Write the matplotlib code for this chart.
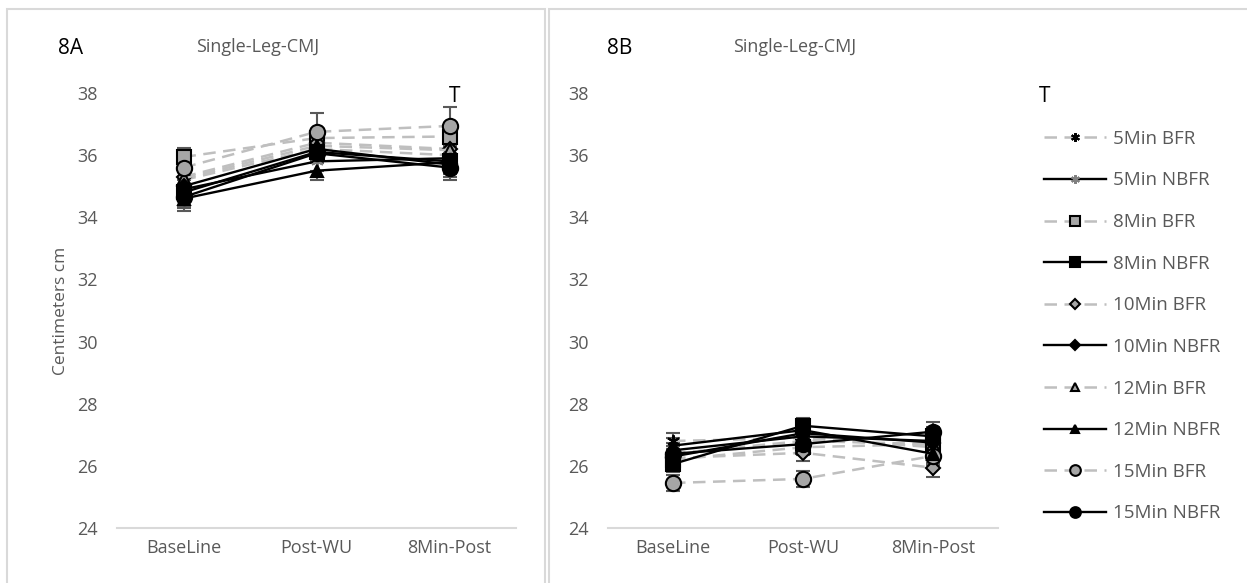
import matplotlib.pyplot as plt
from matplotlib.patches import Rectangle

plt.rcParams['font.family'] = ['Open Sans', 'DejaVu Sans']

stages = ['BaseLine', 'Post-WU', '8Min-Post']
series_names = ['5Min BFR', '5Min NBFR', '8Min BFR', '8Min NBFR', '10Min BFR',
                '10Min NBFR', '12Min BFR', '12Min NBFR', '15Min BFR', '15Min NBFR']

# panel 8A values (cm)
a_5_bfr = [35.2, 36.2, 36.0]
a_5_nbfr = [34.9, 35.8, 35.9]
a_8_bfr = [35.94, 36.55, 36.6]
a_8_nbfr = [34.8, 36.1, 35.8]
a_10_bfr = [35.3, 36.4, 36.2]
a_10_nbfr = [35.0, 36.2, 35.7]
a_12_bfr = [35.25, 36.3, 36.16]
a_12_nbfr = [34.6, 35.5, 35.77]
a_15_bfr = [35.6, 36.75, 36.94]
a_15_nbfr = [34.65, 36.06, 35.6]
a_err = [0.25, 0.6, 0.6]
a_err_low = [0.6, 0.3, 0.6]

# panel 8B values (cm)
b_5_bfr = [26.8, 26.9, 26.6]
b_5_nbfr = [26.5, 26.95, 26.8]
b_8_bfr = [26.2, 26.6, 26.7]
b_8_nbfr = [26.06, 27.29, 26.95]
b_10_bfr = [26.25, 26.42, 25.94]
b_10_nbfr = [26.3, 27.05, 26.75]
b_12_bfr = [26.4, 26.8, 26.7]
b_12_nbfr = [26.65, 27.15, 26.39]
b_15_bfr = [25.45, 25.58, 26.32]
b_15_nbfr = [26.39, 26.7, 27.1]
b_err = [0.25, 0.25, 0.3]

data_a = [a_5_bfr, a_5_nbfr, a_8_bfr, a_8_nbfr, a_10_bfr,
          a_10_nbfr, a_12_bfr, a_12_nbfr, a_15_bfr, a_15_nbfr]
data_b = [b_5_bfr, b_5_nbfr, b_8_bfr, b_8_nbfr, b_10_bfr,
          b_10_nbfr, b_12_bfr, b_12_nbfr, b_15_bfr, b_15_nbfr]

GRAY_LINE = '#BFBFBF'
GRAY_FILL = '#A6A6A6'
TXT = '#595959'

markers = [(6, 2, 0), (6, 2, 0), 's', 's', 'D', 'D', '^', '^', 'o', 'o']
msizes = [9, 9, 10, 10, 7, 7, 9, 9, 11, 11]


def style(i):
    bfr = i % 2 == 0
    if bfr:
        st = dict(color=GRAY_LINE, linestyle=(0, (5, 3)), linewidth=1.8,
                  markerfacecolor=GRAY_FILL, markeredgecolor='black')
    else:
        st = dict(color='black', linestyle='-', linewidth=1.7,
                  markerfacecolor='black', markeredgecolor='black')
        if i == 1:
            st['markeredgecolor'] = '#808080'
    st['marker'] = markers[i]
    st['markersize'] = msizes[i]
    st['markeredgewidth'] = 1.5
    return st


fig = plt.figure(figsize=(12.47, 5.83), dpi=100)
W, H = 1247, 583

# panel borders
fig.patches.append(Rectangle((7 / W, -0.05), (545 - 7) / W, 1 - 9 / H + 0.05,
                             transform=fig.transFigure, fill=False,
                             edgecolor='#D9D9D9', linewidth=1.5))
fig.patches.append(Rectangle((549 / W, -0.05), (1260 - 549) / W, 1 - 9 / H + 0.05,
                             transform=fig.transFigure, fill=False,
                             edgecolor='#D9D9D9', linewidth=1.5))

bottom = 1 - 528 / H
height = (528 - 93) / H
ax_a = fig.add_axes([117 / W, bottom, (516 - 117) / W, height])
ax_b = fig.add_axes([608 / W, bottom, (998 - 608) / W, height])

x = list(range(len(stages)))
lines = []
for ax, data, panel in [(ax_a, data_a, 'A'), (ax_b, data_b, 'B')]:
    for i, vals in enumerate(data):
        if panel == 'A':
            yerr = [a_err_low, a_err] if i in (8, 3) else [[0.3] * 3, [0.3] * 3]
        else:
            yerr = [b_err, b_err]
        ax.errorbar(x, vals, yerr=yerr, fmt='none', ecolor='#595959',
                    elinewidth=1.5, capsize=5, capthick=1.5, zorder=2)
    for i, vals in enumerate(data):
        ln, = ax.plot(x, vals, label=series_names[i], zorder=3 + (i % 2), **style(i))
        if panel == 'B':
            lines.append(ln)
    ax.set_xlim(-0.5, 2.5)
    ax.set_ylim(24, 38)
    ax.set_yticks(range(24, 39, 2))
    ax.set_xticks(x)
    ax.set_xticklabels(stages)
    ax.tick_params(length=0, labelsize=13, labelcolor=TXT)
    ax.tick_params(axis='x', pad=8)
    ax.tick_params(axis='y', pad=14)
    for s in ['top', 'right', 'left']:
        ax.spines[s].set_visible(False)
    ax.spines['bottom'].set_color('#D9D9D9')
    ax.spines['bottom'].set_linewidth(1.5)

ax_a.set_ylabel('Centimeters cm', fontsize=12.5, color=TXT, labelpad=6)

fig.text(58 / W, 1 - 48 / H, '8A', fontsize=15, va='center')
fig.text(258 / W, 1 - 47 / H, 'Single-Leg-CMJ', fontsize=13, color=TXT,
         ha='center', va='center')
fig.text(607 / W, 1 - 48 / H, '8B', fontsize=15, va='center')
fig.text(795 / W, 1 - 47 / H, 'Single-Leg-CMJ', fontsize=13, color=TXT,
         ha='center', va='center')
fig.text(455 / W, 1 - 97 / H, 'T', fontsize=15, va='center', ha='center')
fig.text(1045 / W, 1 - 97 / H, 'T', fontsize=15, va='center', ha='center')

leg = fig.legend(handles=lines, loc='upper left',
                 bbox_to_anchor=(1027 / W, 1 - 113 / H),
                 frameon=False, fontsize=13.5, handlelength=3.3,
                 labelspacing=1.26, markerscale=0.7, handletextpad=0.4)
for t in leg.get_texts():
    t.set_color(TXT)

plt.savefig('out.png', dpi=100)
